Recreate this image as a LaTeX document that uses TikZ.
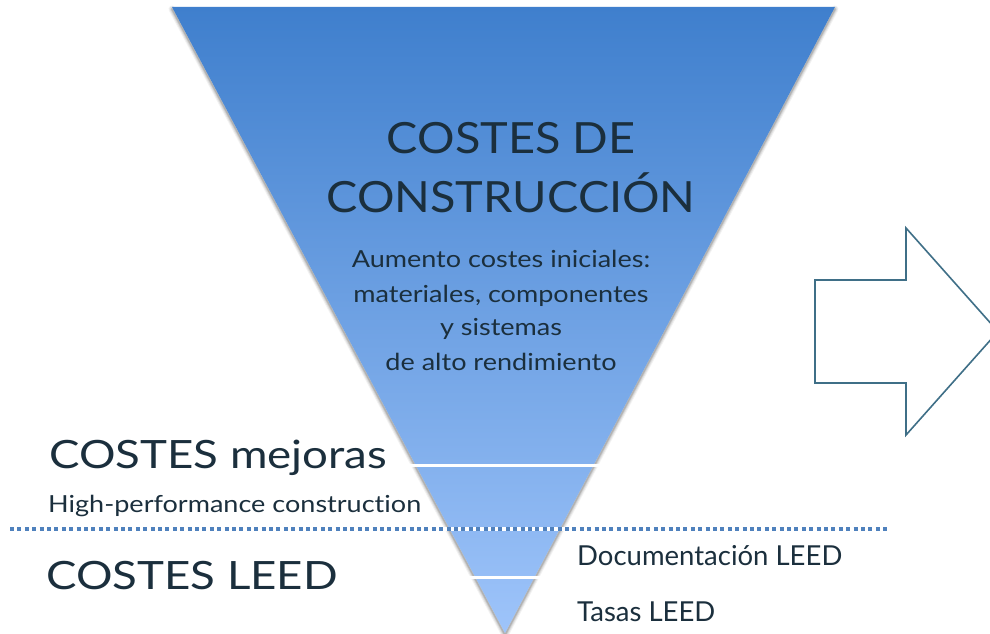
\documentclass[tikz,border=0pt]{standalone}
\usepackage{fontspec}
\setmainfont{Lato}[Ligatures=NoCommon]
\newfontfamily\hfont{Lato}[FakeStretch=1.09,Ligatures=NoCommon]
\newfontfamily\wfont{Lato}[FakeStretch=1.15,Ligatures=NoCommon]
\newfontfamily\sfont{Lato}[FakeStretch=1.17,Ligatures=NoCommon]
\definecolor{txt}{HTML}{1B2F3D}
\definecolor{topb}{HTML}{3F7FCD}
\definecolor{botb}{HTML}{9EC4FA}
\definecolor{arrowc}{HTML}{3F6F87}
\definecolor{dotc}{HTML}{4F81BD}
\tikzset{
  lbl/.style={inner sep=0pt, text=txt},
  bigt/.style={lbl, anchor=base, font=\hfont\fontsize{43}{43}\selectfont},
  midt/.style={lbl, anchor=base, font=\wfont\fontsize{23.5}{23.5}\selectfont},
  sidebig/.style={lbl, anchor=base west, font=\sfont\fontsize{39}{39}\selectfont},
  sidesmall/.style={lbl, anchor=base west, font=\wfont\fontsize{23.5}{23.5}\selectfont},
  rightt/.style={lbl, anchor=base west, font=\fontsize{27.5}{27.5}\selectfont},
  gap/.style={draw=white, line width=3pt},
  shd/.style={draw=black, line join=round, line cap=round},
}
\begin{document}
\begin{tikzpicture}[x=1pt,y=-1pt]
\path[use as bounding box, clip] (0,0) rectangle (990,634);
\fill[white] (0,0) rectangle (990,634);
% soft shadow
\foreach \w/\o in {7/0.05, 5/0.07, 3/0.09, 1.5/0.12}{
  \draw[shd, line width=\w pt, opacity=\o] (172,9) -- (505,635) -- (835,9);
}
% funnel
\shade[top color=topb, bottom color=botb] (172,7) -- (835,7) -- (505,633) -- cycle;
% white gaps
\draw[gap] (400,465) -- (604,465);
\draw[gap] (462,577) -- (545,577);
% dotted separator
\draw[white, line width=3.6pt] (10,529) -- (890,529);
\draw[dotc, line width=3.6pt, dash pattern=on 4pt off 3.4pt] (10,529) -- (890,529);
% arrow
\draw[arrowc, line width=1.6pt, line join=miter] (815,280) -- (906,280) -- (906,228) -- (998,331.5) -- (906,435) -- (906,383) -- (815,383) -- cycle;
% texts
\node[bigt] (h1) at (511,153) {COSTES DE};
\node[bigt] (h2) at (511,212) {CONSTRUCCIÓN};
\node[midt] (m1) at (501,267) {Aumento costes iniciales:};
\node[midt] (m2) at (501,302) {materiales, componentes};
\node[midt] (m3) at (501,335) {y sistemas};
\node[midt] (m4) at (501,370) {de alto rendimiento};
\node[sidebig] (s1) at (49,468) {COSTES mejoras};
\node[sidesmall] (s2) at (48,512) {High-performance construction};
\node[sidebig] (s3) at (46,589) {COSTES LEED};
\node[rightt] (r1) at (577,565) {Documentación LEED};
\node[rightt] (r2) at (577,621) {Tasas LEED};
\end{tikzpicture}
\end{document}
